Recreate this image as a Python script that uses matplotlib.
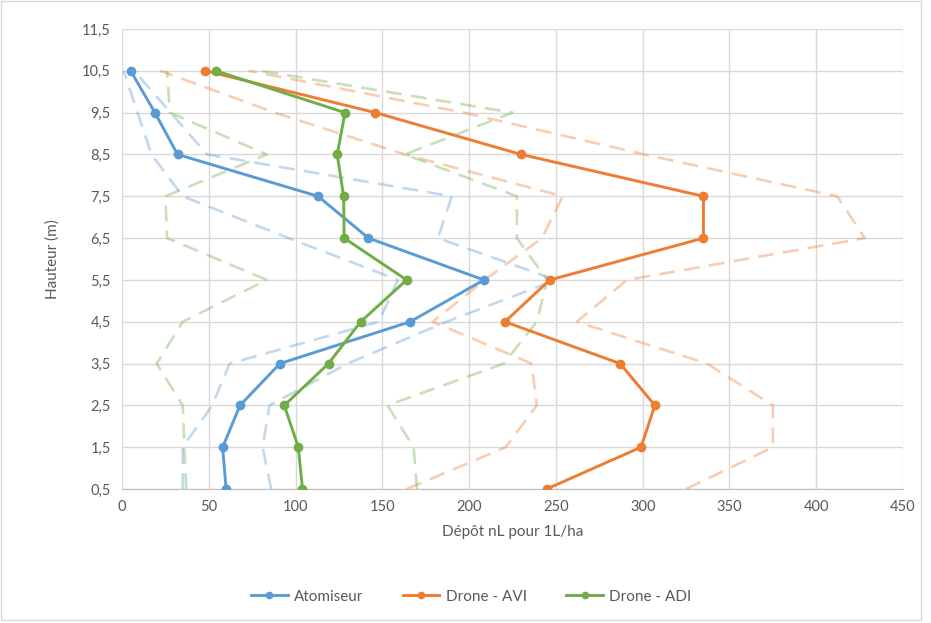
import matplotlib
matplotlib.use("Agg")
import matplotlib.pyplot as plt
from matplotlib.patches import Rectangle

plt.rcParams['font.family'] = ['Lato', 'DejaVu Sans']

# heights (m), bottom to top
heights = [0.5, 1.5, 2.5, 3.5, 4.5, 5.5, 6.5, 7.5, 8.5, 9.5, 10.5]

# mean deposits + dashed envelopes (min / max)
atomiseur = [60, 58, 68, 91, 166, 208.5, 142, 113, 32, 19, 5]
atom_low = [35, 35, 52, 62, 148, 159, 96, 35, 17, 9, 1]
atom_high = [86, 81, 85, 130, 187, 250, 182, 190, 49, 28, 7]

drone_avi = [244.6, 299, 307, 287, 220.6, 246.5, 335, 335, 230, 146, 48]
avi_low = [164, 221, 239, 236, 179, 209, 242, 254, 163, 88, 22]
avi_high = [325, 375, 375, 337, 262, 291, 428, 412, 301, 197, 73]

drone_adi = [104, 101.6, 93.5, 119, 137.5, 164, 128, 127.7, 124, 128.5, 54]
adi_low = [37, 36, 35, 20, 35, 83.5, 26, 25, 83.5, 27.6, 26]
adi_high = [170, 168, 153, 220, 239, 245, 227.5, 227.5, 163, 225, 80]

yticks = [0.5 + i for i in range(12)]
ytick_labels = [str(v).replace('.', ',') for v in yticks]
xticks = list(range(0, 451, 50))

blue, orange, green = '#5B9BD5', '#ED7D31', '#70AD47'
txt = '#595959'

fig = plt.figure(figsize=(9.31, 6.23), dpi=100)
ax = fig.add_axes([0.131, 0.215, 0.839, 0.7385])

# dashed envelopes behind
for lo, hi, c in [(atom_low, atom_high, blue), (avi_low, avi_high, orange), (adi_low, adi_high, green)]:
    for s in (lo, hi):
        ax.plot(s, heights, color=c, alpha=0.38, lw=1.9, dashes=(6, 3.5), zorder=2)

ax.plot(atomiseur, heights, color=blue, lw=2.1, marker='o', ms=6, label='Atomiseur', zorder=3)
ax.plot(drone_avi, heights, color=orange, lw=2.1, marker='o', ms=6, label='Drone - AVI', zorder=3)
ax.plot(drone_adi, heights, color=green, lw=2.1, marker='o', ms=6, label='Drone - ADI', zorder=3)

ax.set_xlim(0, 450)
ax.set_ylim(0.5, 11.5)
ax.set_xticks(xticks)
ax.set_yticks(yticks)
ax.set_yticklabels(ytick_labels)
ax.grid(True, color='#d9d9d9', lw=1)
ax.set_axisbelow(True)
for side in ['top', 'right', 'left']:
    ax.spines[side].set_visible(False)
ax.spines['bottom'].set_color('#bfbfbf')
ax.tick_params(length=0, colors=txt, labelsize=10.5, pad=8)

ax.set_xlabel('Dépôt nL pour 1L/ha', color=txt, fontsize=11, labelpad=8)
ax.set_ylabel('Hauteur (m)', color=txt, fontsize=11, labelpad=16)

leg = fig.legend(loc='center', bbox_to_anchor=(0.506, 0.042), ncol=3, frameon=False,
                 fontsize=11, handlelength=2.4, handletextpad=0.4, columnspacing=2.6,
                 markerscale=0.75)
for t in leg.get_texts():
    t.set_color(txt)

fig.patches.append(Rectangle((0.001, 0.005), 0.988, 0.993, transform=fig.transFigure,
                             fill=False, edgecolor='#d9d9d9', lw=1))

fig.savefig('out.png', dpi=100)
